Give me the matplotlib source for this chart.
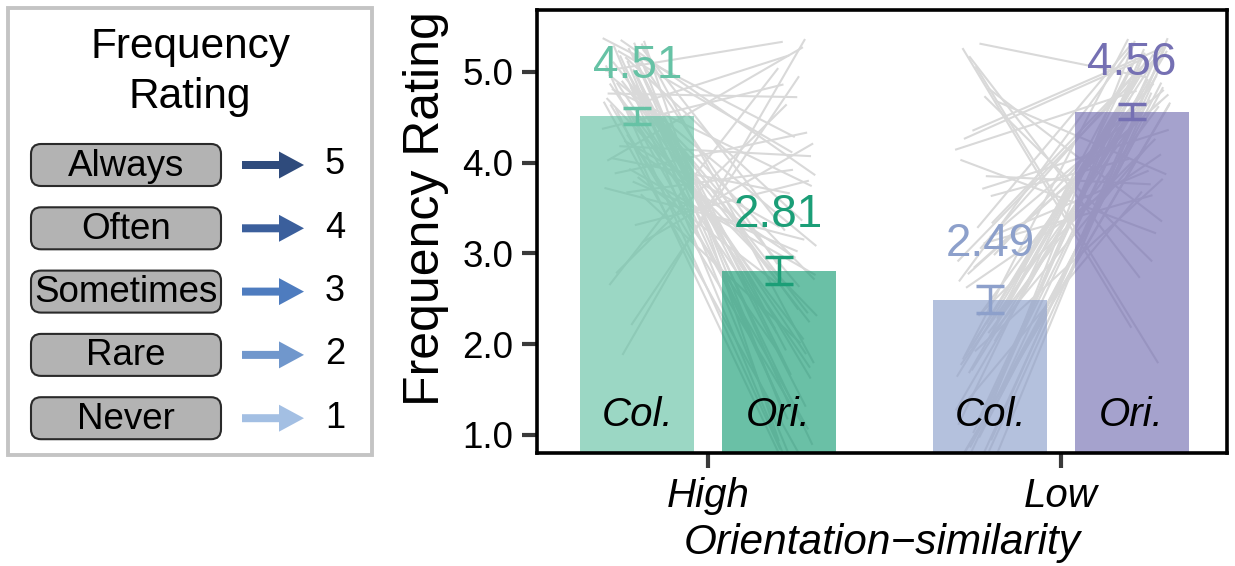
import matplotlib.pyplot as plt
from matplotlib.patches import FancyBboxPatch, FancyArrow, Rectangle

plt.rcParams['font.family'] = ['Liberation Sans', 'DejaVu Sans']

# ---- data ----
groups = ['High', 'Low']
conditions = ['Col.', 'Ori.']
high_means = [4.51, 2.81]
low_means = [2.49, 4.56]
high_err = [0.09, 0.15]
low_err = [0.15, 0.08]

rating_words = ['Always', 'Often', 'Sometimes', 'Rare', 'Never']
rating_values = [5, 4, 3, 2, 1]

# individual participants (jittered ratings), Col. -> Ori.
col_high = [5.32, 4.71, 5.12, 4.88, 5.25, 4.64, 5.05, 4.93, 5.37, 4.78,
            5.18, 4.69, 5.29, 4.85, 5.01, 4.62, 5.21, 4.97, 5.34, 4.74,
            5.09, 4.81, 5.26, 4.67, 5.14, 4.90, 5.03, 4.76, 5.31, 4.60,
            5.16, 4.87, 4.99, 5.23, 4.72, 5.07, 4.83, 5.35, 4.65, 5.11,
            4.31, 3.72, 4.12, 3.88, 4.24, 3.65, 4.05, 3.93, 4.37, 3.79,
            4.18, 3.84, 4.02, 3.67, 3.12, 2.78, 3.31, 2.65, 2.21, 1.88]
ori_high = [1.28, 2.31, 0.71, 1.74, 3.25, 1.14, 2.12, 0.89, 4.28, 1.89,
            1.35, 2.71, 0.64, 2.38, 5.33, 1.06, 1.66, 3.08, 0.93, 2.05,
            1.22, 3.74, 1.93, 0.77, 2.88, 2.24, 1.17, 4.72, 1.79, 0.68,
            3.36, 2.17, 1.31, 4.11, 1.62, 0.84, 2.63, 3.86, 5.18, 2.34,
            1.85, 3.15, 2.95, 4.33, 3.29, 2.01, 3.66, 2.76, 4.86, 3.02,
            4.07, 2.68, 5.27, 3.92, 4.21, 4.64, 3.80, 5.04, 4.95, 5.36]
col_low = [1.21, 0.72, 1.08, 0.86, 1.33, 0.63, 1.15, 0.94, 1.27, 0.78,
           1.02, 0.69, 1.37, 0.82, 1.11, 0.97, 1.24, 0.75,
           2.28, 1.71, 2.09, 1.87, 2.35, 1.64, 2.16, 1.92, 2.22, 1.77,
           2.03, 1.68, 2.31, 1.83, 2.12, 1.96,
           3.24, 2.69, 3.11, 2.84, 3.33, 2.62, 3.05, 2.91, 3.18, 2.77,
           3.28, 2.98,
           4.26, 3.71, 4.14, 3.85, 4.35, 3.63, 4.03,
           5.31, 4.68, 5.17, 4.82, 5.26, 4.73, 5.06]
ori_low = [5.34, 4.66, 5.21, 4.83, 4.32, 5.12, 4.71, 5.28, 4.92, 5.03,
           4.61, 5.37, 3.68, 4.77, 5.15, 4.88, 5.25, 4.64,
           5.08, 4.96, 4.17, 5.31, 4.73, 5.19, 4.85, 3.82, 5.01, 4.69,
           5.23, 4.91, 4.26, 5.36, 4.62, 5.11,
           4.80, 5.29, 3.64, 4.75, 5.06, 4.09, 4.98, 5.17, 3.91, 4.67,
           5.32, 4.87,
           5.14, 4.36, 4.79, 3.76, 5.27, 4.04, 3.22,
           4.94, 3.87, 2.73, 3.35, 2.18, 2.91, 1.79]

# horizontal jitter used for the participant lines
jit = [0.031, -0.047, 0.012, -0.018, 0.055, -0.036, 0.004, 0.042, -0.058, 0.019,
       -0.009, 0.048, -0.027, 0.036, -0.051, 0.008, 0.025, -0.041, 0.059, -0.013,
       0.039, -0.032, 0.015, -0.055, 0.046, -0.004, 0.028, -0.044, 0.052, -0.021,
       0.006, -0.038, 0.034, -0.015, 0.057, -0.049, 0.021, -0.007, 0.044, -0.029,
       0.011, -0.053, 0.038, -0.024, 0.003, 0.050, -0.035, 0.017, -0.060, 0.027,
       -0.011, 0.041, -0.045, 0.009, 0.054, -0.020, 0.033, -0.039, 0.023, -0.002]
jit2 = jit[17:] + jit[:17]

bar_colors = [['#66c2a5', '#1b9e77'], ['#8da0cb', '#7570b3']]
arrow_colors = ['#2f4b7c', '#3b5f9c', '#4e7cbf', '#7097cc', '#a3bfe3']

fig = plt.figure(figsize=(12.35, 5.66), dpi=100)

# ---- left panel: rating legend ----
lg = fig.add_axes([0, 0, 1, 1])
lg.set_xlim(0, 1235)
lg.set_ylim(566, 0)
lg.axis('off')
lg.add_patch(Rectangle((8, 8), 364, 447, fill=False, ec='#c4c4c4', lw=2.8))
lg.text(190, 47, 'Frequency', ha='center', va='center', fontsize=30.5)
lg.text(190, 97, 'Rating', ha='center', va='center', fontsize=30.5)
for i, (word, val) in enumerate(zip(rating_words, rating_values)):
    yc = 165 + i * 63.3
    lg.add_patch(FancyBboxPatch((31, yc - 21), 190, 42,
                                boxstyle='round,pad=0,rounding_size=10',
                                fc='#b3b3b3', ec='#2a2a2a', lw=1.5))
    lg.text(126, yc + 1, word, ha='center', va='center', fontsize=26.5)
    lg.add_patch(FancyArrow(242, yc, 62, 0, width=8, head_width=27,
                            head_length=25, length_includes_head=True,
                            color=arrow_colors[i], lw=0))
    lg.text(335, yc, str(val), ha='center', va='center', fontsize=26)

# ---- right panel: bar chart ----
ax = fig.add_axes([537 / 1235, 113 / 566, 690 / 1235, 443 / 566])
off = 0.2
width = 0.323
all_means = [high_means, low_means]
all_err = [high_err, low_err]
pairs = [(col_high, ori_high), (col_low, ori_low)]

for g in range(len(groups)):
    col_vals, ori_vals = pairs[g]
    for i in range(len(col_vals)):
        ax.plot([g - off - 0.04 + jit[i], g + off + 0.05 + jit2[i]],
                [col_vals[i], ori_vals[i]], color='#d9d9d9', lw=1.5,
                zorder=1, solid_capstyle='butt')
    for k in range(2):
        x = g - off + 2 * off * k
        m = all_means[g][k]
        e = all_err[g][k]
        c = bar_colors[g][k]
        ax.bar(x, m, width=width, color=c, alpha=0.65, zorder=2, lw=0)
        ax.errorbar(x, m, yerr=e, color=c, lw=2.5, capsize=10, capthick=2.5,
                    zorder=4)
        ax.text(x, m + e + 0.46, f'{m:.2f}', color=c, ha='center',
                va='center', fontsize=33, zorder=5)
        ax.text(x, 0.086, conditions[k], transform=ax.get_xaxis_transform(),
                ha='center', va='center', fontsize=29, style='italic', zorder=5)

ax.set_xlim(-0.484, 1.47)
ax.set_ylim(0.80, 5.68)
ax.set_yticks([1, 2, 3, 4, 5])
ax.set_yticklabels(['1.0', '2.0', '3.0', '4.0', '5.0'])
ax.set_xticks([0, 1])
ax.set_xticklabels(groups, style='italic')
ax.tick_params(axis='y', labelsize=26.5, length=11, width=3, color='#3a3a3a', pad=6)
ax.tick_params(axis='x', labelsize=29, length=11, width=3, color='#3a3a3a', pad=6)
for s in ax.spines.values():
    s.set_linewidth(2.6)
ax.set_ylabel('Frequency Rating', fontsize=36)
ax.yaxis.set_label_coords(-0.127, 0.551)
ax.set_xlabel('Orientation\u2212similarity', fontsize=30.5, style='italic',
              labelpad=6)

fig.savefig('out.png', dpi=100)
